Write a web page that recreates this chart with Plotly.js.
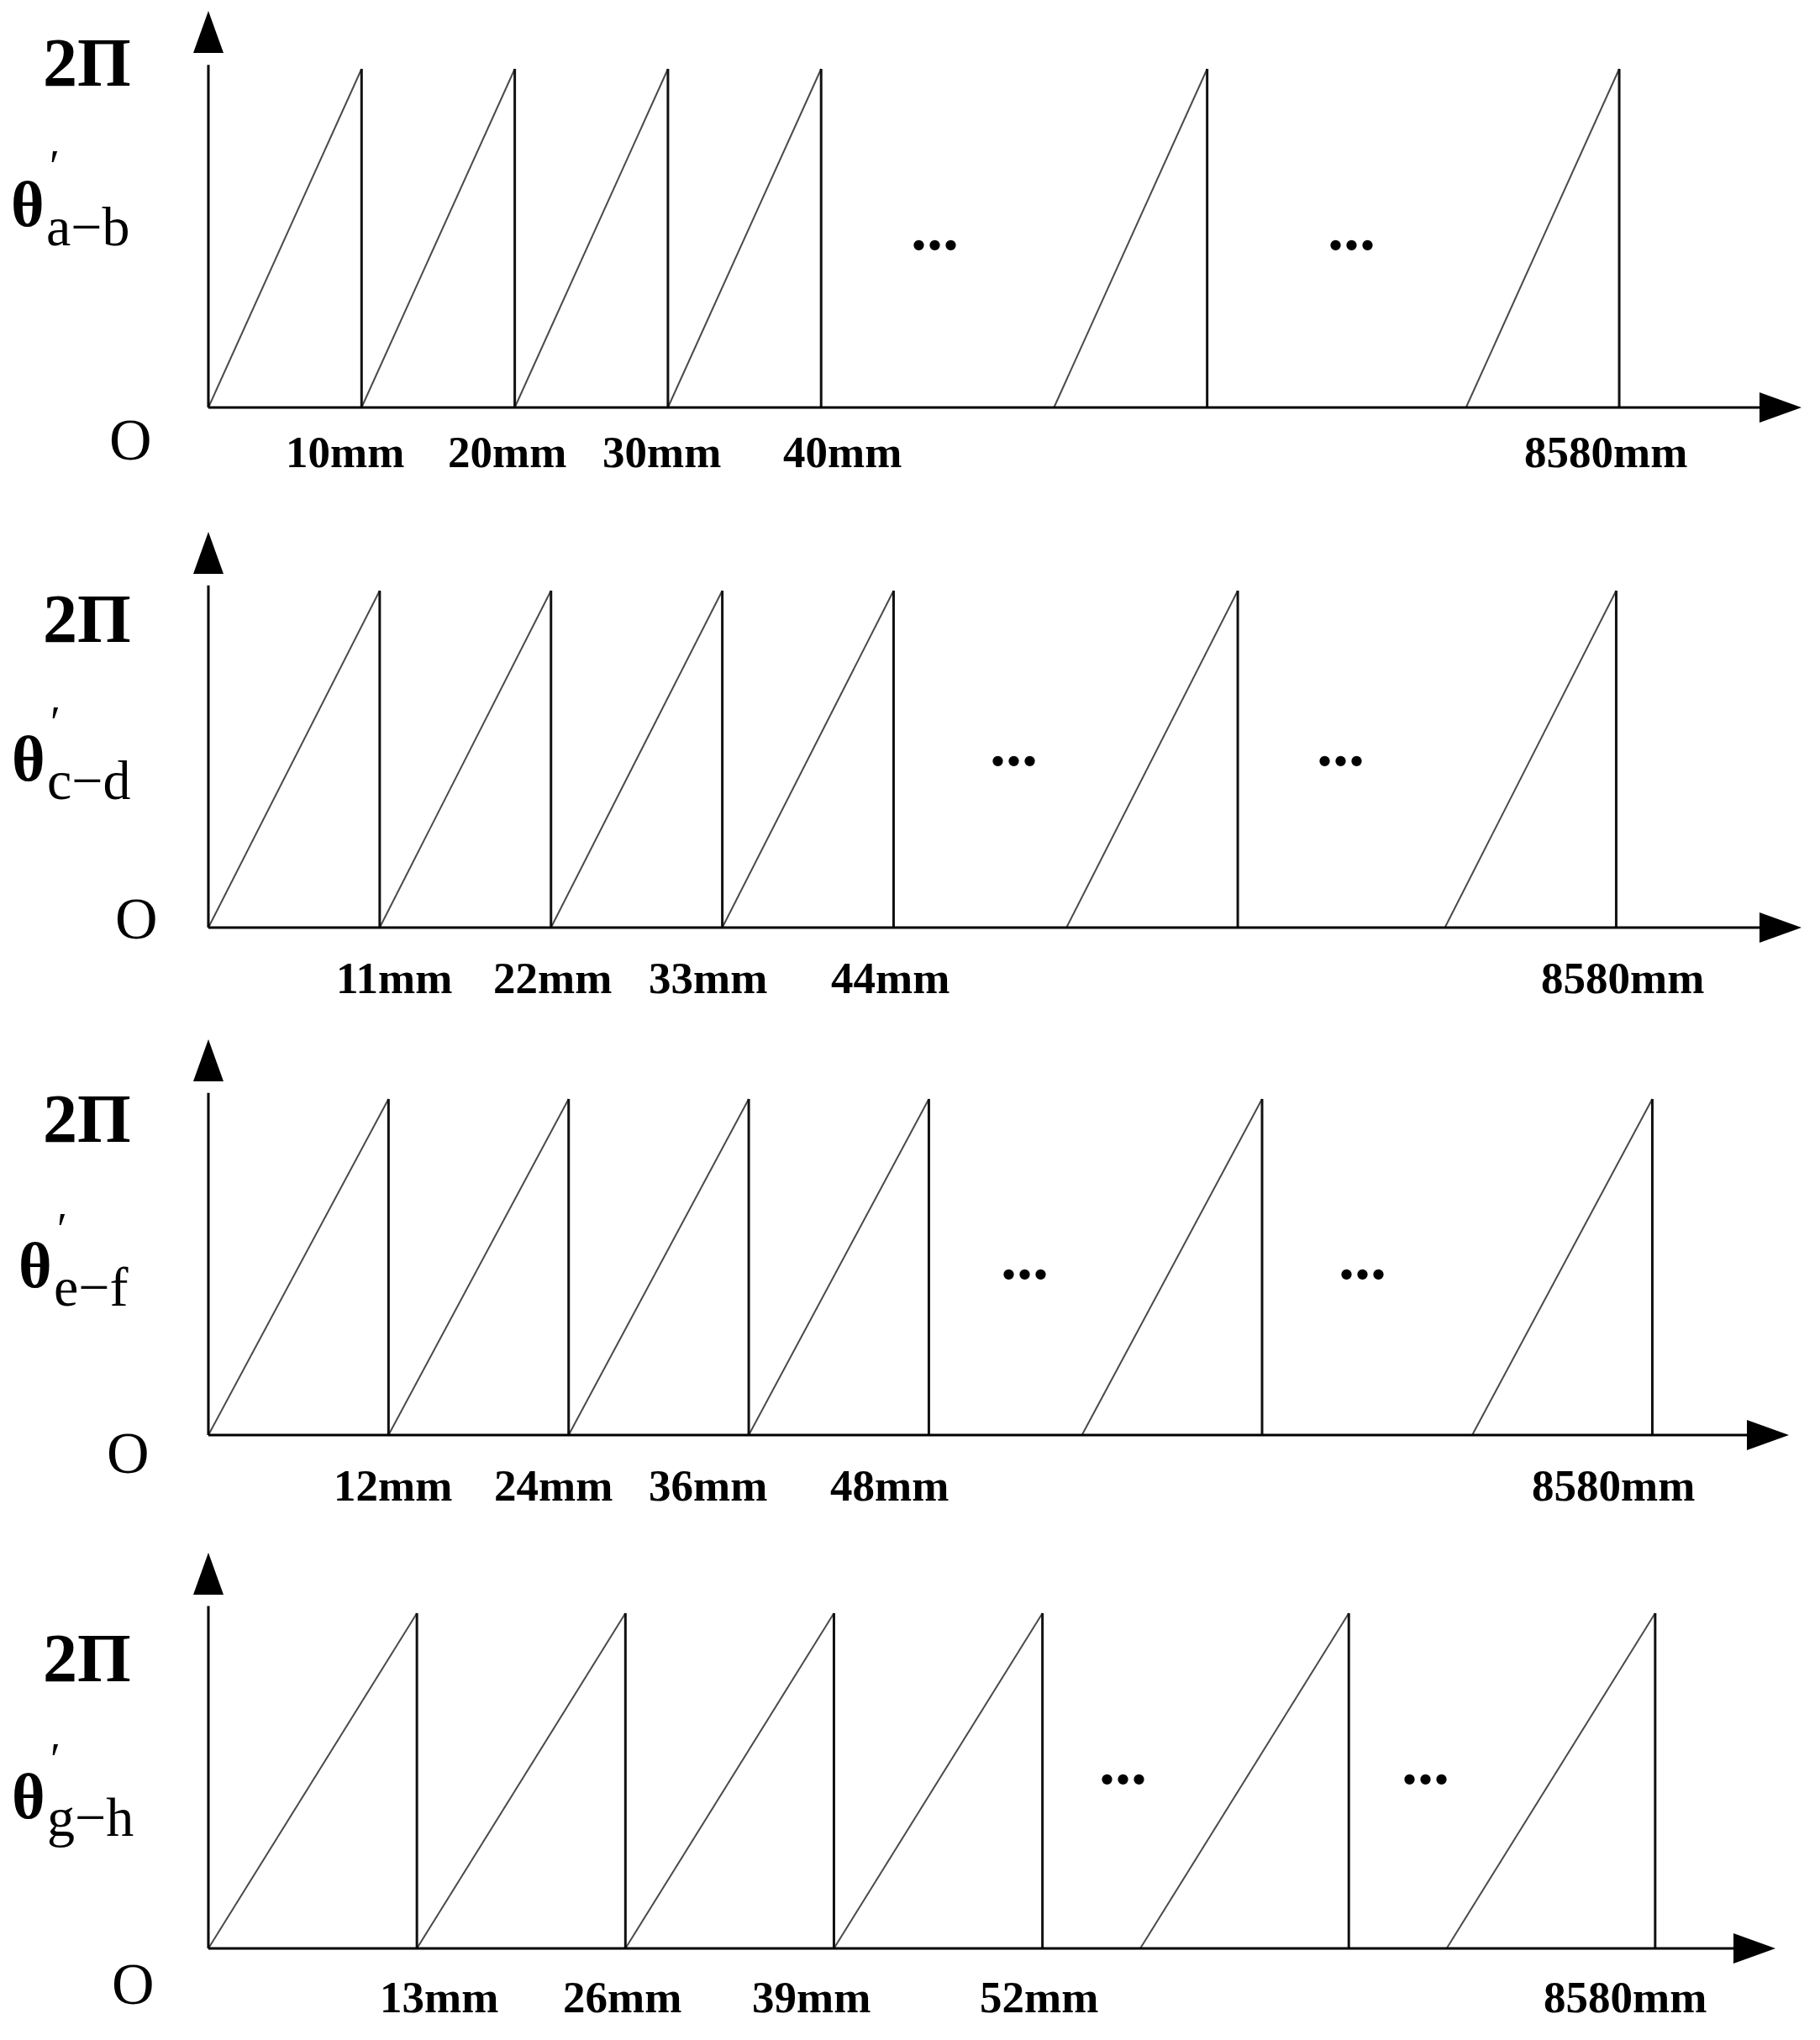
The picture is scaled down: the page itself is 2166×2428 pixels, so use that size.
<!DOCTYPE html>
<html>
<head>
<meta charset="utf-8">
<script src="https://cdn.plot.ly/plotly-3.0.1.min.js"></script>
<style>
  html, body { margin: 0; padding: 0; background: #fff; }
  #chart { width: 2166px; height: 2428px; }
</style>
</head>
<body>
<div id="chart"></div>
<script>
// Phase ramps θ' versus position for the four sensor pairs (schematic, not to scale)
const W = 2166, H = 2428;
const TWO_PI = 2 * Math.PI;

// subscripts of θ' for each panel
const pairNames = ['a−b', 'c−d', 'e−f', 'g−h'];
// ramp period of each pair (mm)
const periods = [10, 11, 12, 13];

// where each drawn ramp starts, on the schematic mm axis (last two sit after the "..." breaks)
const rampStartsAB = [0, 10, 20, 30, 55.2, 82.1];
const rampStartsCD = [0, 11, 22, 33, 55.1, 79.4];
const rampStartsEF = [0, 12, 24, 36, 58.2, 84.2];
const rampStartsGH = [0, 13, 26, 39, 58.1, 77.2];

// length of each horizontal axis up to the arrow tip (schematic mm)
const axisEnds = [104.0, 102.3, 105.3, 97.7];

// tick labels and where they sit along the axis
const tickTextAB = ['10mm', '20mm', '30mm', '40mm', '8580mm'];
const tickTextCD = ['11mm', '22mm', '33mm', '44mm', '8580mm'];
const tickTextEF = ['12mm', '24mm', '36mm', '48mm', '8580mm'];
const tickTextGH = ['13mm', '26mm', '39mm', '52mm', '8580mm'];
const tickPosAB = [8.9, 19.5, 29.6, 41.4, 91.2];
const tickPosCD = [11.9, 22.1, 32.1, 43.8, 90.8];
const tickPosEF = [12.3, 23.0, 33.3, 45.4, 93.6];
const tickPosGH = [14.4, 25.8, 37.6, 51.8, 88.3];

// the "..." breaks: x on the axis, y in radians
const breakPosAB = [47.4, 74.6];
const breakPosCD = [51.7, 72.7];
const breakPosEF = [54.4, 76.9];
const breakPosGH = [57.0, 75.9];
const breakHeights = [3.01, 3.10, 3.00, 3.17];

const rampStarts = [rampStartsAB, rampStartsCD, rampStartsEF, rampStartsGH];
const tickTexts = [tickTextAB, tickTextCD, tickTextEF, tickTextGH];
const tickPos = [tickPosAB, tickPosCD, tickPosEF, tickPosGH];
const breakPos = [breakPosAB, breakPosCD, breakPosEF, breakPosGH];

// page geometry of each panel, px
const originX = 248;
const tipX = [2144, 2144, 2129, 2113];
const baseY = [485, 1104, 1708, 2319];
const peakY = [82, 703, 1308, 1920];
const topY = [13, 633, 1237, 1848];
const labelY = [538, 1164, 1768, 2377];

// left-hand labels, px
const twoPiY = [75, 737, 1331, 1973];
const thetaLeft = [12, 13, 21, 13];
const thetaY = [243, 903, 1506, 2138];
const primeY = [198, 860, 1463, 2094];
const subBase = [291, 950, 1553, 2184];
const oX = [155, 162, 152, 158];
const oY = [523, 1093, 1729, 2361];

const SERIF = '"Liberation Serif", "Times New Roman", serif';
const px = v => v / W;
const py = v => 1 - v / H;

const traces = [];
const shapes = [];
const annotations = [];
const layout = {
    width: W, height: H,
    margin: { l: 0, r: 0, t: 0, b: 0 },
    paper_bgcolor: '#fff', plot_bgcolor: 'rgba(0,0,0,0)',
    showlegend: false,
    font: { family: SERIF, color: '#000' }
};

function txt(text, x, y, size, extra) {
    return Object.assign({
        text, x, y, xref: 'paper', yref: 'paper', showarrow: false,
        xanchor: 'center', yanchor: 'middle', borderpad: 0,
        font: { family: SERIF, size, color: '#000' }
    }, extra || {});
}

for (let i = 0; i < 4; i++) {
    const n = i === 0 ? '' : String(i + 1);
    const xr = 'x' + n, yr = 'y' + n;
    const period = periods[i];
    const xEnd = axisEnds[i];

    // scales from the page geometry
    const kx = (tipX[i] - originX) / xEnd;
    const ky = (baseY[i] - peakY[i]) / TWO_PI;
    const yEnd = (baseY[i] - topY[i]) / ky;
    const padL = 24, padR = 4, padB = 24, padT = 4;

    layout['xaxis' + n] = {
        domain: [px(originX - padL), px(tipX[i] + padR)],
        range: [-padL / kx, xEnd + padR / kx],
        anchor: yr, visible: false, fixedrange: true
    };
    layout['yaxis' + n] = {
        domain: [py(baseY[i] + padB), py(topY[i] - padT)],
        range: [-padB / ky, yEnd + padT / ky],
        anchor: xr, visible: false, fixedrange: true
    };

    // ramps: rising diagonal + vertical drop back to zero
    const dx = [], dy = [], vx = [], vy = [];
    rampStarts[i].forEach(s => {
        dx.push(s, s + period, null); dy.push(0, TWO_PI, null);
        vx.push(s + period, s + period, null); vy.push(TWO_PI, 0, null);
    });
    traces.push({ x: dx, y: dy, xaxis: xr, yaxis: yr, mode: 'lines',
        line: { color: '#4a4a4a', width: 2 }, hoverinfo: 'skip' });
    traces.push({ x: vx, y: vy, xaxis: xr, yaxis: yr, mode: 'lines',
        line: { color: '#111', width: 3 }, hoverinfo: 'skip' });

    // axes with arrowheads
    shapes.push({ type: 'line', xref: xr, yref: yr, x0: 0, y0: 0, x1: xEnd - 1, y1: 0,
        line: { color: '#000', width: 3 } });
    shapes.push({ type: 'line', xref: xr, yref: yr, x0: 0, y0: 0, x1: 0, y1: yEnd - 1,
        line: { color: '#000', width: 3 } });
    shapes.push({ type: 'path', xref: xr, yref: yr, xsizemode: 'pixel', ysizemode: 'pixel',
        xanchor: xEnd, yanchor: 0, path: 'M0,0L-50,18L-50,-18Z',
        fillcolor: '#000', line: { color: 'rgba(0,0,0,0)', width: 0 } });
    shapes.push({ type: 'path', xref: xr, yref: yr, xsizemode: 'pixel', ysizemode: 'pixel',
        xanchor: 0, yanchor: yEnd, path: 'M0,0L-18,-50L18,-50Z',
        fillcolor: '#000', line: { color: 'rgba(0,0,0,0)', width: 0 } });

    // tick labels
    tickTexts[i].forEach((t, j) => {
        annotations.push({ text: '<b>' + t + '</b>', xref: xr, yref: 'paper',
            x: tickPos[i][j], y: py(labelY[i]), showarrow: false,
            xanchor: 'center', yanchor: 'middle',
            font: { family: SERIF, size: 53, color: '#000' } });
    });

    // "..." breaks
    breakPos[i].forEach(b => {
        annotations.push({ text: '<b>...</b>', xref: xr, yref: yr,
            x: b, y: breakHeights[i], yshift: 21, showarrow: false,
            xanchor: 'center', yanchor: 'middle',
            font: { family: SERIF, size: 76, color: '#000' } });
    });

    // left labels: 2Π, θ with prime and pair subscript, origin O
    annotations.push(txt('<b>2Π</b>', px(103), py(twoPiY[i]), 82));
    annotations.push(txt('<b>θ</b>', px(thetaLeft[i]), py(thetaY[i]), 76, { xanchor: 'left' }));
    annotations.push(txt('′', px(thetaLeft[i] + 53), py(primeY[i]), 54));
    annotations.push(txt(pairNames[i], px(thetaLeft[i] + 42), py(subBase[i] - 22), 66, { xanchor: 'left' }));
    annotations.push(txt('O', px(oX[i]), py(oY[i]), 70));
}

layout.shapes = shapes;
layout.annotations = annotations;

Plotly.newPlot('chart', traces, layout, { displayModeBar: false, staticPlot: true });
</script>
</body>
</html>
